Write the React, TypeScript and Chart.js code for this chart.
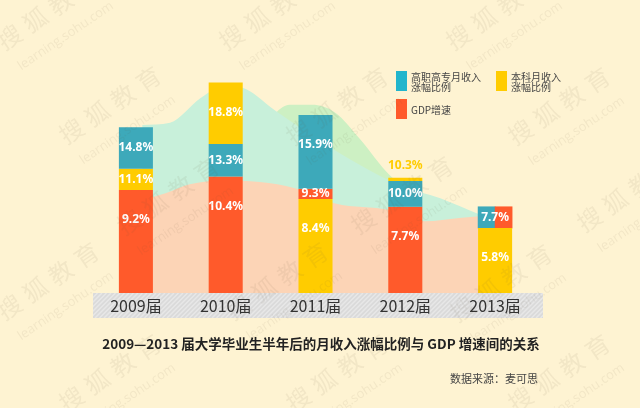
import React, { useEffect, useRef } from 'react';
import { Chart, registerables } from 'chart.js';

Chart.register(...registerables);

// ---------- data ----------
const years = ['2009届', '2010届', '2011届', '2012届', '2013届'];
const vocationalRise = [14.8, 13.3, 15.9, 10.0, 7.7]; // 高职高专月收入涨幅比例
const bachelorRise = [11.1, 18.8, 8.4, 10.3, 5.8]; // 本科月收入涨幅比例
const gdpGrowth = [9.2, 10.4, 9.3, 7.7, 7.7]; // GDP增速

// decorative background areas: [category position, value]
const mintArea = [[0.07, 15.0], [0.38, 15.2], [0.72, 17.4], [1.0, 18.6], [1.23, 18.2], [1.55, 16.3], [2.05, 13.6], [2.5, 11.4], [2.94, 9.6], [3.39, 8.45], [3.83, 7.0], [4.1, 6.3]];
const greenArea = [[1.4, 14.8], [1.71, 16.8], [1.96, 16.8], [2.22, 16.1], [2.49, 13.8], [2.83, 10.5], [3.17, 8.6], [3.45, 7.4]];
const peachArea = [[0.07, 8.3], [0.33, 8.9], [0.6, 9.7], [0.96, 10.05], [1.38, 9.9], [1.77, 9.35], [2.22, 8.0], [2.83, 7.4], [3.22, 6.4], [3.6, 6.7], [3.98, 6.9], [4.15, 6.6]];

const title = '2009—2013 届大学毕业生半年后的月收入涨幅比例与 GDP 增速间的关系';
const source = '数据来源：麦可思';

// ---------- styles ----------
const BG = '#FEF3D2';
const TEAL = '#3DA9BA';
const TEAL_LEGEND = '#22B5CC';
const YELLOW = '#FFCC00';
const RED = '#FF5A2B';
const CJK = '"Noto Sans CJK SC", "Noto Sans", sans-serif';

const SERIES = [
  { name: '高职高专月收入涨幅比例', values: vocationalRise, color: TEAL },
  { name: '本科月收入涨幅比例', values: bachelorRise, color: YELLOW },
  { name: 'GDP增速', values: gdpGrowth, color: RED },
];

type Seg = { k: number; lo: number; hi: number; tieSize: number; tieIdx: number };

function segmentsFor(i: number): Seg[] {
  const items = SERIES.map((s, k) => ({ k, v: s.values[i] }));
  items.sort((a, b) => a.v - b.v || a.k - b.k);
  const res: Seg[] = [];
  let prev = 0;
  let j = 0;
  while (j < items.length) {
    const group = items.filter((it) => it.v === items[j].v);
    group.forEach((g, gi) => res.push({ k: g.k, lo: prev, hi: g.v, tieSize: group.length, tieIdx: gi }));
    prev = items[j].v;
    j += group.length;
  }
  return res;
}

const CAT_PCT = 0.379;

function buildDatasets(): any[] {
  const ds: any[] = [];
  SERIES.forEach((s, k) => {
    ds.push({
      type: 'bar',
      label: s.name,
      xAxisID: 'x',
      yAxisID: 'y',
      grouped: false,
      data: years.map((_, i) => {
        const seg = segmentsFor(i).find((g) => g.k === k)!;
        return seg.tieSize > 1 ? null : [seg.lo, seg.hi];
      }),
      backgroundColor: s.color,
      borderWidth: 0,
      categoryPercentage: CAT_PCT,
      barPercentage: 1,
      order: 1,
    });
  });
  // tied segments (equal values) share the slot side by side
  const ties: { x: number; y: number[]; color: string }[] = [];
  years.forEach((_, i) => {
    segmentsFor(i)
      .filter((g) => g.tieSize > 1)
      .forEach((g) => {
        const w = CAT_PCT / g.tieSize;
        ties.push({ x: i + (g.tieIdx - (g.tieSize - 1) / 2) * w, y: [g.lo, g.hi], color: SERIES[g.k].color });
      });
  });
  ds.push({
    type: 'bar',
    label: 'ties',
    xAxisID: 'xa',
    yAxisID: 'y',
    grouped: false,
    data: ties.map((t) => ({ x: t.x, y: t.y })),
    backgroundColor: ties.map((t) => t.color),
    borderWidth: 0,
    categoryPercentage: 1,
    barPercentage: 1,
    order: 1,
  });
  const area = (pts: number[][], color: string, order: number) => ({
    type: 'line',
    xAxisID: 'xa',
    yAxisID: 'y',
    data: pts.map(([x, y]) => ({ x, y })),
    fill: 'origin',
    backgroundColor: color,
    borderWidth: 0,
    borderColor: 'transparent',
    pointRadius: 0,
    tension: 0.4,
    cubicInterpolationMode: 'monotone',
    order,
  });
  ds.push(area(greenArea, '#CDF0C3', 30));
  ds.push(area(mintArea, '#C8F0DA', 20));
  ds.push(area(peachArea, '#FCD4B6', 10));
  return ds;
}

const bandPlugin = {
  id: 'band',
  beforeDraw(chart: any) {
    const { ctx, chartArea } = chart;
    const x0 = chartArea.left + 2;
    const x1 = chartArea.right + 3;
    const y0 = chartArea.bottom;
    const h = 25;
    ctx.save();
    ctx.fillStyle = '#DADADA';
    ctx.fillRect(x0, y0, x1 - x0, h);
    ctx.beginPath();
    ctx.rect(x0, y0, x1 - x0, h);
    ctx.clip();
    ctx.strokeStyle = '#E7E7E7';
    ctx.lineWidth = 1.4;
    for (let x = x0 - h; x < x1 + h; x += 4.5) {
      ctx.beginPath();
      ctx.moveTo(x, y0 + h);
      ctx.lineTo(x + h, y0);
      ctx.stroke();
    }
    ctx.restore();
  },
};

const labelPlugin = {
  id: 'segLabels',
  afterDatasetsDraw(chart: any) {
    const { ctx } = chart;
    const x = chart.scales.x;
    const y = chart.scales.y;
    ctx.save();
    ctx.font = 'bold 12px "Noto Sans", "DejaVu Sans", sans-serif';
    ctx.textAlign = 'center';
    ctx.textBaseline = 'middle';
    years.forEach((_, i) => {
      const cx = x.getPixelForValue(i);
      const segs = segmentsFor(i);
      const maxHi = Math.max(...segs.map((s) => s.hi));
      const done = new Set<string>();
      segs.forEach((s) => {
        const key = s.lo + '-' + s.hi;
        if (done.has(key)) return;
        done.add(key);
        const top = y.getPixelForValue(s.hi);
        const bottom = y.getPixelForValue(s.lo);
        const h = bottom - top;
        let ty: number;
        let color: string;
        if (h < 14 && s.hi === maxHi) {
          ty = top - 12;
          color = SERIES[s.k].color;
        } else {
          ty = Math.min((top + bottom) / 2, top + 30);
          color = '#FFFFFF';
        }
        ctx.fillStyle = color;
        ctx.fillText(SERIES[s.k].values[i].toFixed(1) + '%', cx, ty);
      });
    });
    ctx.restore();
  },
};

const watermarks = [
  [50, 8], [272, 8], [499, 8],
  [112, 102], [339, 103], [561, 103],
  [170, 193], [404, 192], [630, 190],
  [50, 278], [279, 278], [503, 280],
  [112, 370], [339, 370], [561, 370],
];

export default function App() {
  const ref = useRef<HTMLCanvasElement>(null);
  useEffect(() => {
    if (!ref.current) return;
    const chart = new Chart(ref.current, {
      type: 'bar',
      data: { labels: years, datasets: buildDatasets() },
      options: {
        responsive: false,
        animation: false,
        events: [],
        layout: { padding: { left: 91, right: 100, top: 13, bottom: 90 } },
        plugins: { legend: { display: false }, tooltip: { enabled: false } },
        scales: {
          x: {
            type: 'category',
            offset: true,
            grid: { display: false, drawTicks: false },
            border: { display: false },
            ticks: { color: '#333333', font: { family: CJK, size: 16 }, padding: 3 },
            afterFit: (s: any) => {
              s.height = 25;
            },
          },
          xa: { type: 'linear', min: -0.5, max: 4.5, offset: false, display: false },
          y: { type: 'linear', min: 0, max: 25, display: false, stacked: false },
        },
      } as any,
      plugins: [bandPlugin, labelPlugin],
    } as any);
    return () => chart.destroy();
  }, []);

  const legendText: React.CSSProperties = {
    position: 'absolute',
    fontFamily: CJK,
    fontSize: 10,
    lineHeight: '10px',
    color: '#444',
    whiteSpace: 'nowrap',
  };
  const swatch = (left: number, top: number, color: string) => (
    <div style={{ position: 'absolute', left, top, width: 11, height: 20, background: color }} />
  );

  return (
    <div style={{ position: 'absolute', left: 0, top: 0, width: 640, height: 408, background: BG, overflow: 'hidden' }}>
      <canvas ref={ref} width={640} height={408} style={{ position: 'absolute', left: 0, top: 0, width: 640, height: 408 }} />
      {swatch(396, 71, TEAL_LEGEND)}
      <div style={{ ...legendText, left: 411, top: 72 }}>高职高专月收入<br />涨幅比例</div>
      {swatch(496, 71, YELLOW)}
      <div style={{ ...legendText, left: 511, top: 72 }}>本科月收入<br />涨幅比例</div>
      {swatch(396, 99, RED)}
      <div style={{ ...legendText, left: 411, top: 104, lineHeight: '11px' }}>GDP增速</div>
      <div style={{ position: 'absolute', left: 0, width: 642, top: 335, textAlign: 'center', fontFamily: CJK, fontWeight: 700, fontSize: 13.5, lineHeight: '16px', color: '#222', whiteSpace: 'nowrap' }}>{title}</div>
      <div style={{ position: 'absolute', right: 102, top: 371, fontFamily: CJK, fontSize: 11, lineHeight: '14px', color: '#444', whiteSpace: 'nowrap' }}>{source}</div>
      {watermarks.map(([cx, cy], i) => (
        <React.Fragment key={i}>
          <div style={{ position: 'absolute', left: cx, top: cy, transform: 'translate(-50%, -50%) rotate(-34deg)', fontFamily: CJK, fontSize: 24, letterSpacing: 7, color: 'rgba(100,90,70,0.08)', whiteSpace: 'nowrap', pointerEvents: 'none' }}>搜狐教育</div>
          <div style={{ position: 'absolute', left: cx + 15, top: cy + 27, transform: 'translate(-50%, -50%) rotate(-34deg)', fontFamily: '"Open Sans", sans-serif', fontSize: 13, color: 'rgba(100,90,70,0.08)', whiteSpace: 'nowrap', pointerEvents: 'none' }}>learning.sohu.com</div>
        </React.Fragment>
      ))}
    </div>
  );
}
